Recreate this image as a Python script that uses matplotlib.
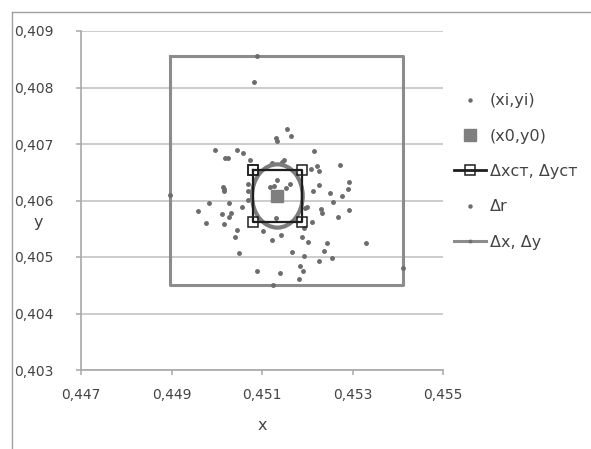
import matplotlib
matplotlib.use("Agg")
import matplotlib.pyplot as plt
from matplotlib.patches import Ellipse
from matplotlib.lines import Line2D

# measured points (xi, yi)
xi = [0.45083, 0.45156, 0.45163, 0.45132, 0.45134, 0.44996, 0.45044, 0.45057,
      0.45216, 0.45018, 0.45024, 0.45073, 0.45149, 0.45222, 0.45272, 0.45208,
      0.45227, 0.45123, 0.45293, 0.45227, 0.45014, 0.45017, 0.45016, 0.45289,
      0.45213, 0.45251, 0.45276, 0.44983, 0.45027, 0.45258, 0.45056, 0.45199,
      0.45195, 0.45230, 0.45233, 0.45293, 0.44958, 0.45012, 0.45031, 0.45026,
      0.45269, 0.44976, 0.45017, 0.45044, 0.45103, 0.45142, 0.45041, 0.45123,
      0.45189, 0.45201, 0.45243, 0.45330, 0.45050, 0.45166, 0.45237, 0.45193,
      0.45254, 0.45226, 0.45184, 0.45191, 0.45088, 0.45140, 0.45182,
      0.45088, 0.44897, 0.45412, 0.45124,
      0.45133, 0.45118, 0.45126, 0.45153, 0.45132, 0.45070, 0.45070, 0.45070,
      0.45144, 0.45193, 0.45162, 0.45210]
yi = [0.40809, 0.40727, 0.40714, 0.40711, 0.40705, 0.40689, 0.40689, 0.40684,
      0.40687, 0.40676, 0.40675, 0.40672, 0.40672, 0.40661, 0.40662, 0.40655,
      0.40653, 0.40666, 0.40633, 0.40627, 0.40624, 0.40621, 0.40616, 0.40620,
      0.40616, 0.40613, 0.40608, 0.40596, 0.40596, 0.40597, 0.40589, 0.40589,
      0.40586, 0.40585, 0.40577, 0.40583, 0.40581, 0.40576, 0.40577, 0.40570,
      0.40570, 0.40561, 0.40559, 0.40548, 0.40546, 0.40539, 0.40535, 0.40530,
      0.40536, 0.40527, 0.40525, 0.40525, 0.40507, 0.40508, 0.40511, 0.40501,
      0.40499, 0.40493, 0.40484, 0.40476, 0.40475, 0.40471, 0.40461,
      0.40856, 0.40610, 0.40481, 0.40450,
      0.40637, 0.40624, 0.40626, 0.40623, 0.40569, 0.40630, 0.40616, 0.40601,
      0.40669, 0.40551, 0.40630, 0.40562]

# centre point (x0, y0)
x0 = 0.45134
y0 = 0.40608

# standard deviations Δxст, Δyст
dx_st = 0.00054
dy_st = 0.00046

# radius Δr
dr = 0.00056

# full spread Δx, Δy (bounding box)
x_lo, x_hi = 0.44897, 0.45412
y_lo, y_hi = 0.40450, 0.40856

x_ticks = [0.447, 0.449, 0.451, 0.453, 0.455]
x_tick_labels = ["0,447", "0,449", "0,451", "0,453", "0,455"]
y_ticks = [0.403, 0.404, 0.405, 0.406, 0.407, 0.408, 0.409]
y_tick_labels = ["0,403", "0,404", "0,405", "0,406", "0,407", "0,408", "0,409"]

legend_labels = ["(xi,yi)", "(x0,y0)", "\u0394x\u0441\u0442, \u0394y\u0441\u0442",
                 "\u0394r", "\u0394x, \u0394y"]

W, H = 591, 449
fig = plt.figure(figsize=(W / 100, H / 100), dpi=100)
ax = fig.add_axes([81 / W, 1 - 370 / H, (443 - 81) / W, (370 - 31) / H])

axis_grey = "#a8a8a8"
dot_grey = "#6c6c6c"
text_grey = "#444444"

# bounding box Δx, Δy
bx = [x_lo, x_hi, x_hi, x_lo, x_lo]
by = [y_hi, y_hi, y_lo, y_lo, y_hi]
ax.plot(bx, by, color="#8c8c8c", lw=2.2, zorder=3)

# points
ax.plot(xi, yi, ls="none", marker="o", ms=2.5, color=dot_grey, mec=dot_grey, zorder=4)

# circle of radius Δr around the centre
ring = Ellipse((x0, y0), 2 * dr, 2 * dr, fill=False, edgecolor="#7c7c7c", lw=3.0, zorder=5)
ax.add_patch(ring)

# box of standard deviations
sx = [x0 - dx_st, x0 + dx_st, x0 + dx_st, x0 - dx_st, x0 - dx_st]
sy = [y0 + dy_st, y0 + dy_st, y0 - dy_st, y0 - dy_st, y0 + dy_st]
ax.plot(sx, sy, color="#1e1e1e", lw=1.6, marker="s", ms=6.5, mfc="none",
        mec="#1e1e1e", mew=1.1, zorder=6)

# centre point
ax.plot([x0], [y0], ls="none", marker="s", ms=8, color="#7f7f7f", zorder=7)

ax.set_xlim(x_ticks[0], x_ticks[-1])
ax.set_ylim(y_ticks[0], y_ticks[-1])
ax.set_xticks(x_ticks)
ax.set_xticklabels(x_tick_labels)
ax.set_yticks(y_ticks)
ax.set_yticklabels(y_tick_labels)

ax.grid(axis="y", color="#c8c8c8", lw=1.3, zorder=0)
ax.set_axisbelow(True)
for s in ("top", "right"):
    ax.spines[s].set_visible(False)
for s in ("left", "bottom"):
    ax.spines[s].set_color(axis_grey)
    ax.spines[s].set_linewidth(1.2)
ax.tick_params(axis="both", direction="out", length=3.8, width=1.1,
               color=axis_grey, labelsize=10, labelcolor=text_grey)
ax.tick_params(axis="y", pad=16)
ax.tick_params(axis="x", pad=9)

ax.set_xlabel("x", fontsize=11.5, color=text_grey)
ax.xaxis.set_label_coords((262 - 81) / 362, -(425 - 370) / 339)
ax.xaxis.label.set_va("center")
ax.set_ylabel("y", fontsize=11.5, color=text_grey, rotation=0)
ax.yaxis.set_label_coords(-(81 - 38) / 362, (370 - 222) / 339)
ax.yaxis.label.set_va("center")
ax.yaxis.label.set_ha("center")

handles = [
    Line2D([], [], ls="none", marker="o", ms=2.2, color=dot_grey),
    Line2D([], [], ls="none", marker="s", ms=8, color="#7f7f7f"),
    Line2D([], [], color="#1e1e1e", lw=2.0, marker="s", ms=6.5, mfc="none",
           mec="#1e1e1e", mew=1.1),
    Line2D([], [], ls="none", marker="o", ms=2.2, color=dot_grey),
    Line2D([], [], color="#8c8c8c", lw=2.2, marker="o", ms=1.8, mfc="#707070",
           mec="#707070"),
]
leg = fig.legend(handles, legend_labels, loc="center left",
                 bbox_to_anchor=(454 / W, 1 - 171.5 / H), frameon=False,
                 fontsize=11.5, handlelength=2.0, handletextpad=0.25,
                 labelspacing=1.28, borderpad=0, borderaxespad=0)
for t in leg.get_texts():
    t.set_color(text_grey)

# outer frame lines
fig.add_artist(Line2D([12 / W, 1], [1 - 11.5 / H, 1 - 11.5 / H], color="#a0a0a0", lw=1.0))
fig.add_artist(Line2D([12 / W, 12 / W], [0, 1 - 11.5 / H], color="#a0a0a0", lw=1.0))

fig.savefig("out.png", dpi=100)
